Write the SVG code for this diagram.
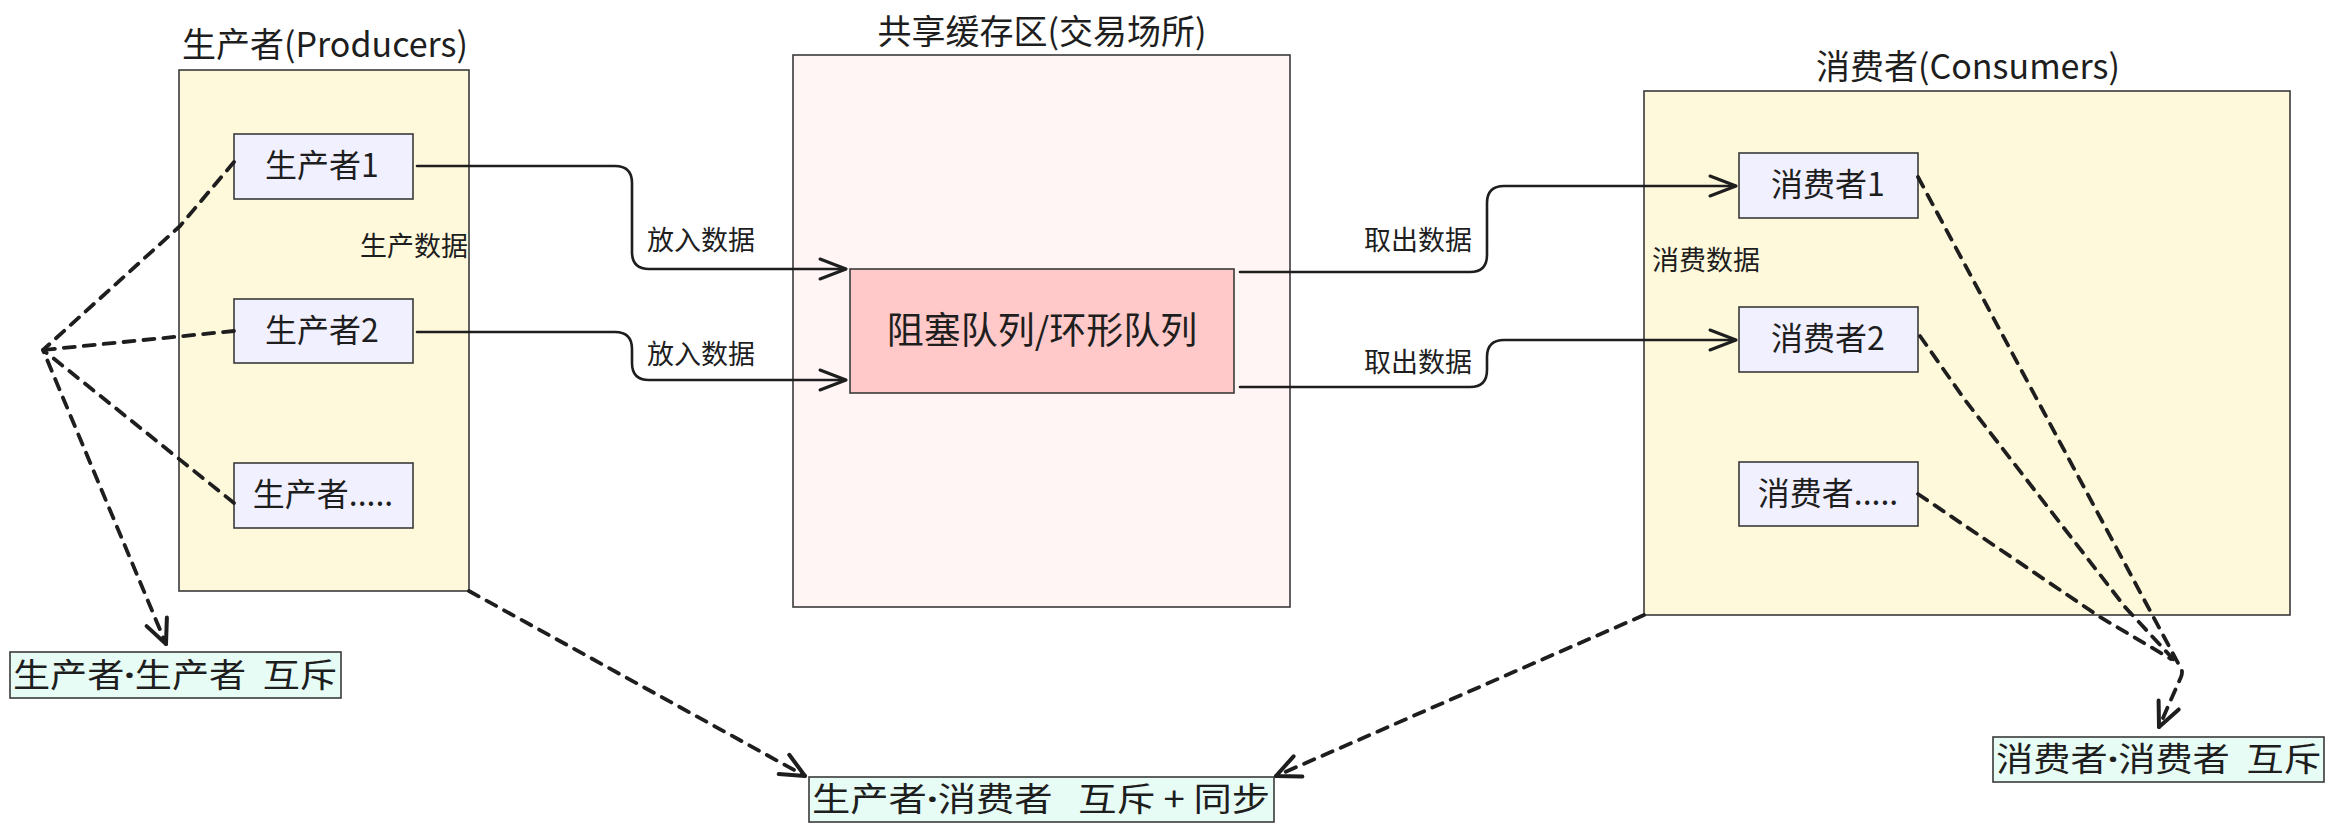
<svg xmlns="http://www.w3.org/2000/svg" width="2333" height="835" viewBox="0 0 2333 835">
<defs>
<style>
.t{font-family:"Noto Sans CJK SC","Noto Sans",sans-serif;fill:#1e1e1e;text-anchor:middle}
.title{font-size:34px}
.node{font-size:32px}
.lbl{font-size:27px}
.grp{stroke:#3a3a3a;stroke-width:1.6}
.nd{fill:#f1f0ff;stroke:#3a3a3a;stroke-width:1.6}
.mx{fill:#e6fcf5;stroke:#3a3a3a;stroke-width:1.6}
.mt{font-size:33px;text-anchor:start;white-space:pre}
.dot{font-family:"Noto Sans","Liberation Sans",sans-serif;font-weight:bold}
.solid{fill:none;stroke:#1e1e1e;stroke-width:2.6;stroke-linecap:round;stroke-linejoin:round}
.dash{fill:none;stroke:#1e1e1e;stroke-width:3.8;stroke-dasharray:11 9;stroke-linecap:round;stroke-linejoin:round}
</style>
<marker id="arr" markerUnits="userSpaceOnUse" markerWidth="40" markerHeight="30" refX="0" refY="0" viewBox="-30 -15 34 30" orient="auto" overflow="visible">
<path d="M-26,-10 L0,0 L-26,10" fill="none" stroke="#1e1e1e" stroke-width="3" stroke-linecap="round" stroke-linejoin="round" stroke-dasharray="none"/>
</marker>
<marker id="arrd" markerUnits="userSpaceOnUse" markerWidth="40" markerHeight="30" refX="0" refY="0" viewBox="-30 -15 34 30" orient="auto" overflow="visible">
<path d="M-24,-11 L0,0 L-24,11" fill="none" stroke="#1e1e1e" stroke-width="4" stroke-linecap="round" stroke-linejoin="round" stroke-dasharray="none"/>
</marker>
</defs>
<rect width="2333" height="835" fill="#ffffff"/>

<g id="producers">
<rect class="grp" x="179" y="70" width="290" height="521" fill="#fff9db"/>
<text class="t title" x="325" y="57">生产者(Producers)</text>
<text class="t lbl" x="414" y="256">生产数据</text>
</g>
<g id="producer1">
<rect class="nd" x="234" y="134" width="179" height="65"/>
<text class="t node" x="322" y="177">生产者1</text>
</g>
<g id="producer2">
<rect class="nd" x="234" y="299" width="179" height="64"/>
<text class="t node" x="322" y="342">生产者2</text>
</g>
<g id="producer3">
<rect class="nd" x="234" y="463" width="179" height="65"/>
<text class="t node" x="323" y="506">生产者.....</text>
</g>

<g id="buffer">
<rect class="grp" x="793" y="55" width="497" height="552" fill="#fff5f5"/>
<text class="t title" x="1042" y="44">共享缓存区(交易场所)</text>
</g>
<g id="queue">
<rect class="grp" x="850" y="269" width="384" height="124" fill="#ffc9c9"/>
<text class="t" style="font-size:37px" x="1042" y="344">阻塞队列/环形队列</text>
</g>

<g id="consumers">
<rect class="grp" x="1644" y="91" width="646" height="524" fill="#fff9db"/>
<text class="t title" x="1968" y="79">消费者(Consumers)</text>
<text class="t lbl" x="1706" y="270">消费数据</text>
</g>
<g id="consumer1">
<rect class="nd" x="1739" y="153" width="179" height="65"/>
<text class="t node" x="1828" y="196">消费者1</text>
</g>
<g id="consumer2">
<rect class="nd" x="1739" y="307" width="179" height="65"/>
<text class="t node" x="1828" y="350">消费者2</text>
</g>
<g id="consumer3">
<rect class="nd" x="1739" y="462" width="179" height="64"/>
<text class="t node" x="1828" y="505">消费者.....</text>
</g>

<g id="mutex-pp">
<rect class="mx" x="10" y="652" width="331" height="46"/>
<text class="t mt" xml:space="preserve" x="13" y="687" textLength="324" lengthAdjust="spacingAndGlyphs">生产者<tspan class="dot">·</tspan>生产者  互斥</text>
</g>
<g id="mutex-pc">
<rect class="mx" x="809" y="777" width="465" height="45"/>
<text class="t mt" xml:space="preserve" x="812" y="811" textLength="458" lengthAdjust="spacingAndGlyphs">生产者<tspan class="dot">·</tspan>消费者   互斥 + 同步</text>
</g>
<g id="mutex-cc">
<rect class="mx" x="1993" y="737" width="331" height="45"/>
<text class="t mt" xml:space="preserve" x="1996" y="771" textLength="325" lengthAdjust="spacingAndGlyphs">消费者<tspan class="dot">·</tspan>消费者  互斥</text>
</g>

<g id="connectors">
<path class="solid" d="M417,166 L615,166 Q632,166 632,183 L632,252 Q632,269 649,269 L846,269" marker-end="url(#arr)"/>
<path class="solid" d="M417,332 L615,332 Q632,332 632,349 L632,363 Q632,380 649,380 L846,380" marker-end="url(#arr)"/>
<path class="solid" d="M1240,272 L1470,272 Q1487,272 1487,255 L1487,203 Q1487,186 1504,186 L1736,186" marker-end="url(#arr)"/>
<path class="solid" d="M1240,387 L1470,387 Q1487,387 1487,370 L1487,357 Q1487,340 1504,340 L1736,340" marker-end="url(#arr)"/>
<text class="t lbl" x="701" y="250">放入数据</text>
<text class="t lbl" x="701" y="364">放入数据</text>
<text class="t lbl" x="1418" y="250">取出数据</text>
<text class="t lbl" x="1418" y="372">取出数据</text>

<path class="dash" d="M234,162 L180,226 L43,350 L166,644" marker-end="url(#arrd)"/>
<path class="dash" d="M234,331 L43,350"/>
<path class="dash" d="M234,503 L43,350"/>
<path class="dash" d="M469,591 L805,776" marker-end="url(#arrd)"/>
<path class="dash" d="M1644,615 L1276,776" marker-end="url(#arrd)"/>

<path class="dash" d="M1918,177 L2178,663 Q2184,670 2181,677 L2159,727" marker-end="url(#arrd)"/>
<path class="dash" d="M1920,336 L1965,400 L2125,607 L2174,660"/>
<path class="dash" d="M1918,494 L2100,617 L2171,659"/>
</g>
</svg>
